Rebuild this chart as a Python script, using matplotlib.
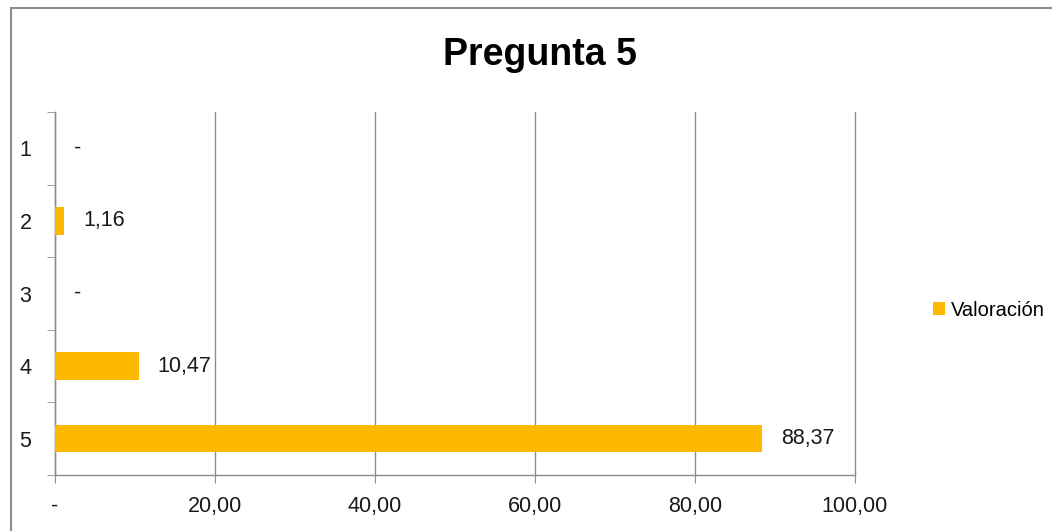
import matplotlib.pyplot as plt
from matplotlib.patches import Patch, Rectangle
import numpy as np

# Chart data
categories = ["1", "2", "3", "4", "5"]
valoracion = [0.0, 1.16, 0.0, 10.47, 88.37]
x_ticks = [0, 20, 40, 60, 80, 100]
x_tick_labels = ["-", "20,00", "40,00", "60,00", "80,00", "100,00"]

BAR_COLOR = "#FDB900"
GRID_COLOR = "#8C8C8C"
TEXT_COLOR = "#1a1a1a"

plt.rcParams["font.family"] = ["Liberation Sans", "DejaVu Sans"]


def fmt_value(v):
    """Excel-style label: dash for zero, comma decimal separator."""
    if v == 0:
        return "-"
    return f"{v:.2f}".replace(".", ",")


fig = plt.figure(figsize=(10.52, 5.31), dpi=100)
ax = fig.add_axes([55 / 1052, 1 - 475 / 531, 800 / 1052, 363 / 531])

y_pos = np.arange(len(categories))
ax.barh(y_pos, valoracion, height=0.38, color=BAR_COLOR, zorder=3)

# Value labels right of the bars
for y, v in zip(y_pos, valoracion):
    ax.annotate(
        fmt_value(v),
        xy=(v, y),
        xytext=(19, 0),
        textcoords="offset pixels",
        va="center",
        ha="left",
        fontsize=15.5,
        color=TEXT_COLOR,
    )

ax.set_xlim(0, 100)
ax.set_ylim(len(categories) - 0.5, -0.5)

# Axes styling
ax.set_xticks(x_ticks)
ax.set_xticklabels(x_tick_labels, fontsize=15.5, color=TEXT_COLOR)
ax.set_yticks(y_pos)
ax.set_yticklabels(categories, fontsize=15.5, color=TEXT_COLOR)
ax.set_yticks(np.arange(-0.5, len(categories), 1.0), minor=True)
ax.tick_params(axis="y", which="major", length=0, pad=17)
ax.tick_params(axis="y", which="minor", length=6, color=GRID_COLOR, direction="out")
ax.tick_params(axis="x", which="major", length=6, color=GRID_COLOR, pad=9)

ax.grid(axis="x", color=GRID_COLOR, linewidth=1.0, zorder=0)
for gl in ax.get_xgridlines():
    gl.set_clip_on(False)
for side in ["top", "right"]:
    ax.spines[side].set_visible(False)
for side in ["left", "bottom"]:
    ax.spines[side].set_color(GRID_COLOR)
    ax.spines[side].set_linewidth(1.0)

fig.text(540 / 1052, 1 - 55 / 531, "Pregunta 5", ha="center", va="center",
         fontsize=27, fontweight="bold", color="#000000")

fig.legend(
    handles=[Patch(facecolor=BAR_COLOR, label="Valoración")],
    loc="center left",
    bbox_to_anchor=(915 / 1052, 1 - 310 / 531),
    frameon=False,
    fontsize=14.5,
    handlelength=0.6,
    handleheight=0.6,
    handletextpad=0.3,
)

# Chart outer border
fig.patches.append(Rectangle((11 / 1052, -0.01), 1.0, 1 - 8 / 531 + 0.01,
                             transform=fig.transFigure, fill=False,
                             edgecolor="#8C8C8C", linewidth=1.5))

fig.savefig("out.png", dpi=100)
plt.close(fig)
